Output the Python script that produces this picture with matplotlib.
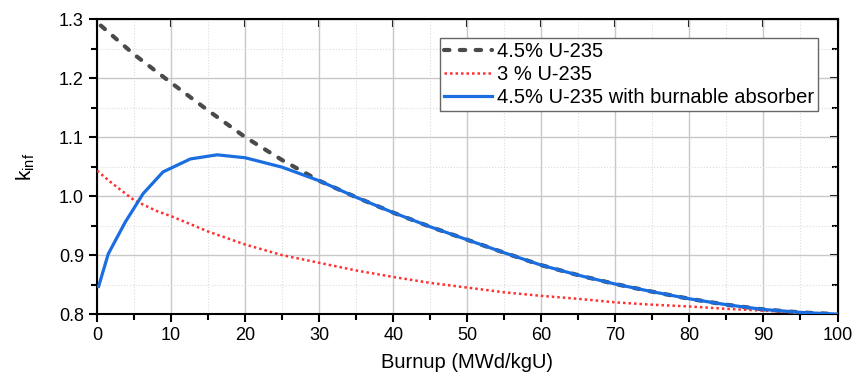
import numpy as np
import matplotlib
matplotlib.use("Agg")
import matplotlib.pyplot as plt
from matplotlib.ticker import MultipleLocator

plt.rcParams["font.family"] = ["Liberation Sans", "DejaVu Sans"]

# burnup (MWd/kgU) and k_inf
bu_45 = [0.5, 5, 10, 15, 20, 25, 30, 35, 40, 45, 50, 55, 60, 65, 70, 75, 80, 85, 90, 95, 100]
k_45 = [1.289, 1.240, 1.192, 1.145, 1.100, 1.061, 1.026, 0.998, 0.972, 0.948, 0.926, 0.904, 0.883, 0.866, 0.851, 0.838, 0.826, 0.816, 0.808, 0.803, 0.800]

bu_3 = [0, 2, 5, 8, 10, 15, 20, 25, 30, 35, 40, 45, 50, 55, 60, 65, 70, 75, 80, 85, 90, 95, 100]
k_3 = [1.043, 1.022, 0.993, 0.975, 0.966, 0.940, 0.918, 0.900, 0.887, 0.874, 0.863, 0.853, 0.845, 0.837, 0.831, 0.826, 0.820, 0.816, 0.813, 0.809, 0.806, 0.802, 0.799]

bu_ba = [0.2, 1.5, 3.8, 6.2, 8.9, 12.6, 16.2, 20, 25, 30, 35, 40, 45, 50, 55, 60, 65, 70, 75, 80, 85, 90, 95, 100]
k_ba = [0.847, 0.902, 0.956, 1.004, 1.041, 1.063, 1.070, 1.065, 1.049, 1.026, 0.998, 0.972, 0.948, 0.926, 0.904, 0.883, 0.866, 0.851, 0.838, 0.826, 0.816, 0.808, 0.803, 0.800]

fig = plt.figure(figsize=(8.52, 3.74), dpi=100)
ax = fig.add_axes([0.114, 0.160, 0.869, 0.789])

ax.plot(bu_45, k_45, color="#4a4a4a", lw=3.0, linestyle=(0, (1.3, 2.5)),
        dash_capstyle="round", label="4.5% U-235", zorder=3)
ax.plot(bu_3, k_3, color="#ff3030", lw=1.8, linestyle=(0, (1, 1.2)),
        label="3 % U-235", zorder=3)
ax.plot(bu_ba, k_ba, color="#1a6ee0", lw=2.3, label="4.5% U-235 with burnable absorber", zorder=4)

ax.set_xlim(0, 100)
ax.set_ylim(0.8, 1.3)
ax.xaxis.set_major_locator(MultipleLocator(10))
ax.xaxis.set_minor_locator(MultipleLocator(5))
ax.yaxis.set_major_locator(MultipleLocator(0.1))
ax.yaxis.set_minor_locator(MultipleLocator(0.05))
ax.yaxis.set_major_formatter(matplotlib.ticker.FormatStrFormatter("%.1f"))

ax.grid(which="major", color="#c8c8c8", lw=1.0)
ax.grid(which="minor", color="#dcdcdc", lw=0.8, linestyle=":")
ax.set_axisbelow(True)

for s in ax.spines.values():
    s.set_linewidth(1.5)
ax.tick_params(which="both", labelsize=13, width=1.5, colors="black", direction="out")
ax.tick_params(which="major", length=6)
ax.tick_params(which="minor", length=4)

# inward ticks on top and right
sec_x = ax.secondary_xaxis("top")
sec_x.xaxis.set_major_locator(MultipleLocator(10))
sec_x.tick_params(direction="in", length=6, width=1.5, labeltop=False)
sec_y = ax.secondary_yaxis("right")
sec_y.yaxis.set_major_locator(MultipleLocator(0.1))
sec_y.yaxis.set_minor_locator(MultipleLocator(0.05))
sec_y.tick_params(which="major", direction="in", length=6, width=1.5, labelright=False)
sec_y.tick_params(which="minor", direction="in", length=4, width=1.5)

ax.set_xlabel("Burnup (MWd/kgU)", fontsize=14.5, labelpad=6)
ax.set_ylabel(r"$\mathregular{k_{inf}}$", fontsize=15, labelpad=16)

leg = ax.legend(loc="upper right", bbox_to_anchor=(0.974, 0.935), fontsize=14.5,
                handlelength=2.4, handletextpad=0.25, borderpad=0.2, labelspacing=0.2,
                borderaxespad=0, fancybox=False, framealpha=1, edgecolor="#666666")
leg.get_frame().set_linewidth(1.0)

fig.savefig("out.png", dpi=100)
